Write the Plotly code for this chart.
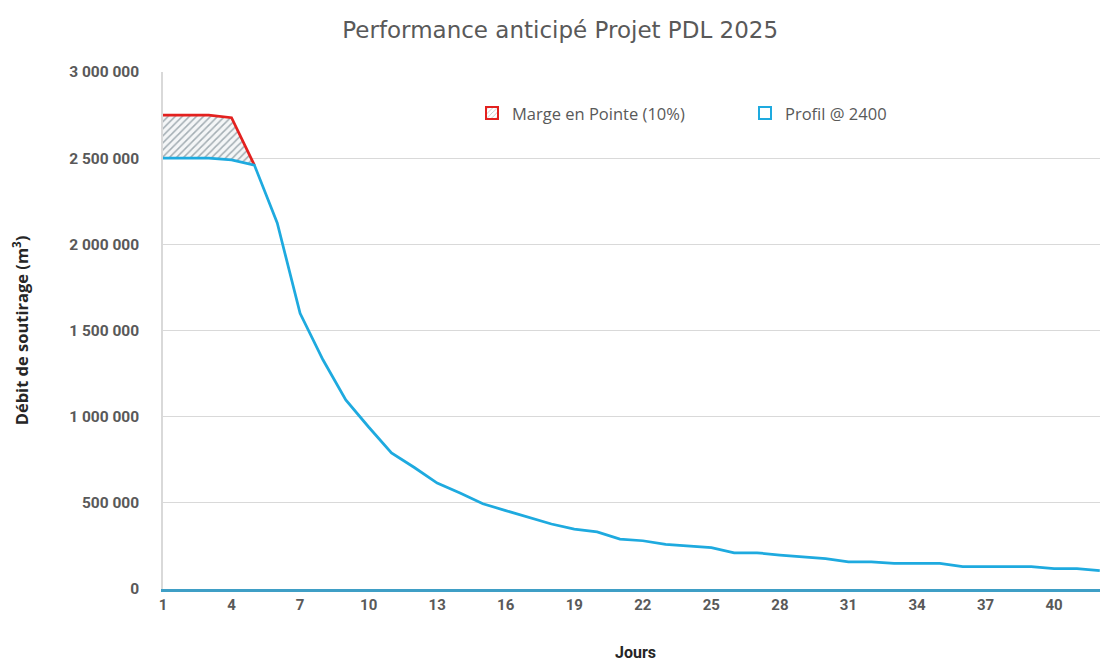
import plotly.graph_objects as go

days = list(range(1, 43))
profil = [2500000, 2500000, 2500000, 2490000, 2460000, 2124000, 1600000, 1330000, 1097000, 940000,
          790000, 705000, 615000, 557000, 495000, 455000, 418000, 377000, 348000, 331000,
          290000, 280000, 259000, 248000, 240000, 210000, 210000, 197000, 186000, 176000,
          157000, 157000, 149000, 149000, 149000, 130000, 130000, 130000, 130000, 118000,
          118000, 106000]
marge_days = [1, 2, 3, 4, 5]
marge = [2750000, 2750000, 2750000, 2735000, 2460000]

tick_days = list(range(1, 41, 3))
y_ticks = [0, 500000, 1000000, 1500000, 2000000, 2500000, 3000000]

BLUE = "#1eaadf"
RED = "#e3211f"
GRAY = "#595959"

fig = go.Figure()

# lower bound for hatched area (profile over the margin days)
fig.add_trace(go.Scatter(x=marge_days, y=profil[:len(marge_days)], mode="lines",
                         line=dict(width=0, color=BLUE), showlegend=False, hoverinfo="skip"))
fig.add_trace(go.Scatter(x=marge_days, y=marge, mode="lines", fill="tonexty",
                         fillcolor="rgba(0,0,0,0)",
                         fillpattern=dict(shape="/", fgcolor="#52656f", bgcolor="#f4f6f7",
                                          size=5, solidity=0.3),
                         line=dict(color=RED, width=2.75), showlegend=False, name="Marge en Pointe (10%)"))
fig.add_trace(go.Scatter(x=days, y=profil, mode="lines", line=dict(color=BLUE, width=2.75),
                         showlegend=False, name="Profil @ 2400"))

# legend entries (square symbols)
fig.add_trace(go.Bar(x=[None], y=[None], name="Marge en Pointe (10%)",
                     marker=dict(color="white", line=dict(color=RED, width=2),
                                 pattern=dict(shape="/", fgcolor="#52656f", bgcolor="white", size=4))))
fig.add_trace(go.Bar(x=[None], y=[None], name="Profil @ 2400",
                     marker=dict(color="white", line=dict(color=BLUE, width=2))))

fig.update_layout(
    width=1100, height=654,
    margin=dict(l=155, r=0, t=64, b=73, autoexpand=False),
    paper_bgcolor="white", plot_bgcolor="white",
    separators=", ",
    font=dict(family="Open Sans, Roboto, sans-serif", color=GRAY),
    title=dict(text="Performance anticipé Projet PDL 2025", x=0.502, xref="container", xanchor="center",
               y=0.966, yref="container", yanchor="middle",
               font=dict(size=23, color=GRAY, family="DejaVu Sans, sans-serif")),
    legend=dict(orientation="h", x=0.327, xanchor="left", y=0.92, yanchor="middle",
                font=dict(size=16.5, color=GRAY, family="Open Sans, sans-serif"),
                bgcolor="rgba(0,0,0,0)",
                itemwidth=30, entrywidth=228, traceorder="normal"),
    xaxis=dict(range=[1, 42.36], tickvals=tick_days, ticktext=[str(d) for d in tick_days],
               showgrid=False, showline=True, linecolor="#3f9fc6", linewidth=2.5,
               zeroline=False, ticks="", ticklabelstandoff=0, automargin=False,
               tickfont=dict(size=15, color=GRAY, family="Roboto, sans-serif", weight="bold"),
               title=dict(text="Jours", standoff=43,
                          font=dict(size=16, color="#262626", family="Roboto, sans-serif", weight="bold"))),
    yaxis=dict(range=[0, 3000000], tickvals=y_ticks, tickformat=",.0f", automargin=False,
               showgrid=True, gridcolor="#d9d9d9", gridwidth=1,
               showline=True, linecolor="#d9d9d9", linewidth=1.5, zeroline=False,
               ticks="", ticklabelstandoff=19,
               tickfont=dict(size=15.5, color=GRAY, family="Roboto, sans-serif", weight="bold"),
               title=dict(text="Débit de soutirage (m<sup>3</sup>)", standoff=36,
                          font=dict(size=16.5, color="#262626", family="Open Sans, sans-serif", weight="bold"))),
)

fig.write_html("out.html")
